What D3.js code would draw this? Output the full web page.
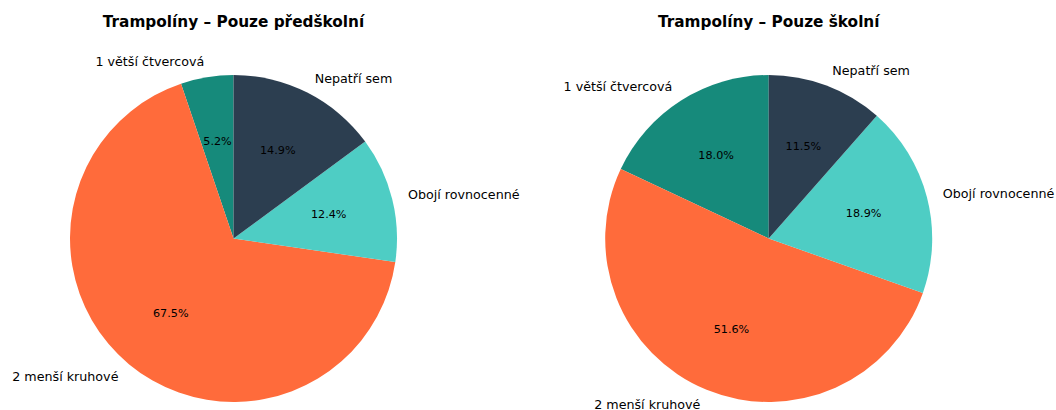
<!DOCTYPE html>
<html>
<head>
<meta charset="utf-8">
<script src="https://cdn.jsdelivr.net/npm/d3@7"></script>
<style>
  html, body { margin: 0; padding: 0; background: #ffffff; }
  svg { display: block; }
</style>
</head>
<body>
<svg id="chart" width="1056" height="410"></svg>
<script>
const categories = ["1 větší čtvercová", "2 menší kruhové", "Obojí rovnocenné", "Nepatří sem"];
const titles = ["Trampolíny – Pouze předškolní", "Trampolíny – Pouze školní"];
const valuesPreschool = [5.2, 67.5, 12.4, 14.9];
const valuesSchool = [18.0, 51.6, 18.9, 11.5];
const colors = ["#168a7b", "#ff6b3b", "#4ecdc4", "#2c3e50"];

const svg = d3.select("#chart");
const font = "'DejaVu Sans', sans-serif";
const radius = 163.5;
const panels = [
  { title: titles[0], values: valuesPreschool, cx: 233.5, cy: 238.5 },
  { title: titles[1], values: valuesSchool, cx: 768.7, cy: 238.5 }
];

const color = d3.scaleOrdinal().domain(categories).range(colors);
const pie = d3.pie().sort(null).startAngle(0).endAngle(-2 * Math.PI).value(d => d.v);
const arc = d3.arc().innerRadius(0).outerRadius(radius);

panels.forEach(p => {
  const g = svg.append("g").attr("transform", `translate(${p.cx},${p.cy})`);
  const data = categories.map((c, i) => ({ c, v: p.values[i] }));
  const arcs = pie(data);

  g.selectAll("path.slice").data(arcs).enter().append("path")
    .attr("class", "slice")
    .attr("d", arc)
    .attr("fill", d => color(d.data.c));

  const pos = (d, r) => {
    const a = (d.startAngle + d.endAngle) / 2;
    return [Math.sin(a) * r, -Math.cos(a) * r];
  };

  g.selectAll("text.pct").data(arcs).enter().append("text")
    .attr("class", "pct")
    .attr("x", d => pos(d, radius * 0.6)[0])
    .attr("y", d => pos(d, radius * 0.6)[1])
    .attr("text-anchor", "middle")
    .attr("dominant-baseline", "central")
    .attr("font-family", font)
    .attr("font-size", "11.2px")
    .attr("fill", "#000")
    .text(d => d.data.v.toFixed(1) + "%");

  g.selectAll("text.lbl").data(arcs).enter().append("text")
    .attr("class", "lbl")
    .attr("x", d => pos(d, radius * 1.1)[0])
    .attr("y", d => pos(d, radius * 1.1)[1])
    .attr("text-anchor", d => pos(d, 1)[0] > 0 ? "start" : "end")
    .attr("dominant-baseline", "central")
    .attr("font-family", font)
    .attr("font-size", "12.7px")
    .attr("fill", "#000")
    .text(d => d.data.c);

  svg.append("text")
    .attr("x", p.cx)
    .attr("y", 22)
    .attr("text-anchor", "middle")
    .attr("dominant-baseline", "central")
    .attr("font-family", font)
    .attr("font-weight", "bold")
    .attr("font-size", "15.3px")
    .attr("fill", "#000")
    .text(p.title);
});
</script>
</body>
</html>
